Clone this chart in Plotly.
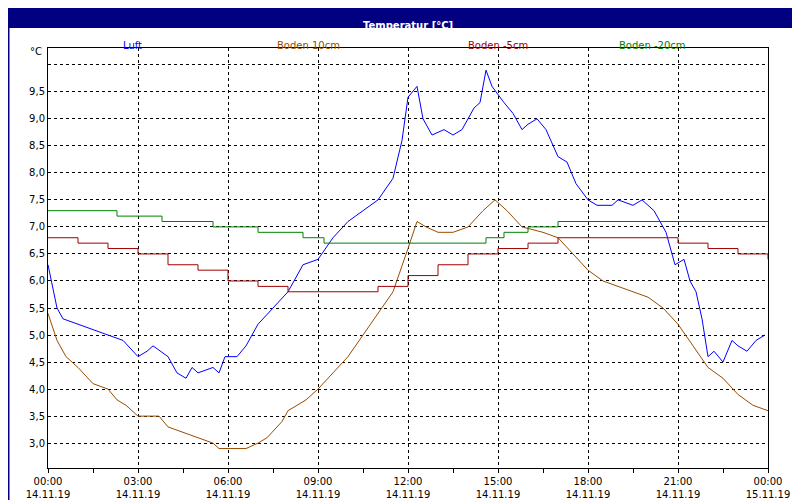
import plotly.graph_objects as go

luft_t = [0,0.3,0.5,1,1.5,2,2.5,3,3.3,3.5,4,4.3,4.6,4.8,5,5.5,5.7,5.9,6.3,6.6,7,7.5,8,8.5,9,9.5,10,10.5,11,11.5,11.8,12,12.3,12.5,12.8,13.2,13.5,13.8,14.2,14.4,14.6,14.8,15.2,15.5,15.8,16,16.3,16.6,17,17.3,17.6,18,18.3,18.8,19,19.5,19.8,20.2,20.6,20.9,21.2,21.4,21.6,21.8,22,22.2,22.5,22.8,23,23.3,23.6,23.9]
luft_v = [6.3,5.5,5.3,5.2,5.1,5.0,4.9,4.6,4.7,4.8,4.6,4.3,4.2,4.4,4.3,4.4,4.3,4.6,4.6,4.8,5.2,5.5,5.8,6.3,6.4,6.8,7.1,7.3,7.5,7.9,8.6,9.4,9.6,9.0,8.7,8.8,8.7,8.8,9.2,9.3,9.9,9.6,9.3,9.1,8.8,8.9,9.0,8.8,8.3,8.2,7.8,7.5,7.4,7.4,7.5,7.4,7.5,7.3,6.9,6.3,6.4,6.0,5.8,5.3,4.6,4.7,4.5,4.9,4.8,4.7,4.9,5.0]

b10_t = [0,0.3,0.6,1,1.5,2,2.3,2.6,3,3.7,4,4.5,5,5.5,5.7,6.6,7,7.3,7.8,8,8.6,9,9.5,10,10.5,11,11.5,12,12.3,12.6,13,13.5,14,14.5,14.9,15.3,15.8,16.5,17,17.5,18,18.5,19,19.5,20,20.5,21,21.5,22,22.5,23,23.5,24]
b10_v = [5.4,4.9,4.6,4.4,4.1,4.0,3.8,3.7,3.5,3.5,3.3,3.2,3.1,3.0,2.9,2.9,3.0,3.1,3.4,3.6,3.8,4.0,4.3,4.6,5.0,5.4,5.8,6.6,7.1,7.0,6.9,6.9,7.0,7.3,7.5,7.3,7.0,6.9,6.8,6.5,6.2,6.0,5.9,5.8,5.7,5.5,5.2,4.8,4.4,4.2,3.9,3.7,3.6]

b5_t = [0,1,2,3,4,5,6,7,8,10,11,12,13,14,15,16,17,20,21,22,23,24]
b5_v = [6.8,6.7,6.6,6.5,6.3,6.2,6.0,5.9,5.8,5.8,5.9,6.1,6.3,6.5,6.6,6.7,6.8,6.8,6.7,6.6,6.5,6.4]

b20_t = [0,2.3,3.8,5.5,7,8.5,9.2,14.6,15.2,16,17,24]
b20_v = [7.3,7.2,7.1,7.0,6.9,6.8,6.7,6.8,6.9,7.0,7.1,7.1]

x_ticks = [0,3,6,9,12,15,18,21,24]
x_labels = ["00:00<br>14.11.19","03:00<br>14.11.19","06:00<br>14.11.19","09:00<br>14.11.19",
            "12:00<br>14.11.19","15:00<br>14.11.19","18:00<br>14.11.19","21:00<br>14.11.19","00:00<br>15.11.19"]
y_ticks = [3.0,3.5,4.0,4.5,5.0,5.5,6.0,6.5,7.0,7.5,8.0,8.5,9.0,9.5,10.0]
y_labels = ["3,0","3,5","4,0","4,5","5,0","5,5","6,0","6,5","7,0","7,5","8,0","8,5","9,0","9,5",""]

names = ["Luft","Boden 10cm","Boden -5cm","Boden -20cm"]
colors = ["#0000ff","#994c00","#a00000","#008000"]

fig = go.Figure()
fig.add_trace(go.Scatter(x=luft_t, y=luft_v, mode="lines", line=dict(color=colors[0], width=1)))
fig.add_trace(go.Scatter(x=b10_t, y=b10_v, mode="lines", line=dict(color=colors[1], width=1)))
fig.add_trace(go.Scatter(x=b5_t, y=b5_v, mode="lines", line=dict(color=colors[2], width=1, shape="hv")))
fig.add_trace(go.Scatter(x=b20_t, y=b20_v, mode="lines", line=dict(color=colors[3], width=1, shape="hv")))

H = 420.0; W = 720.0
fnt = dict(family="DejaVu Sans", size=10, color="black")
fig.update_layout(
    width=800, height=500, showlegend=False,
    margin=dict(l=40, r=40, t=40, b=40, pad=0, autoexpand=False),
    paper_bgcolor="white", plot_bgcolor="white", font=fnt,
    xaxis=dict(range=[0,24], tickvals=x_ticks, ticktext=x_labels, showgrid=True,
               gridcolor="black", griddash="3px,3px", gridwidth=1, showline=True, linecolor="black",
               mirror=True, ticks="outside", ticklen=4, tickcolor="black", zeroline=False,
               minor=dict(tickvals=[1.5,4.5,7.5,10.5,13.5,16.5,19.5,22.5], ticks="outside", ticklen=4, tickcolor="black", showgrid=False)),
    yaxis=dict(range=[2.54,10.31], tickvals=y_ticks, ticktext=y_labels, showgrid=True,
               gridcolor="black", griddash="3px,3px", gridwidth=1, showline=True, linecolor="black",
               mirror=True, ticks="", zeroline=False),
)
fig.add_shape(type="rect", xref="paper", yref="paper", x0=-40/W, x1=1+40/W, y0=-40/H, y1=1+40/H,
              line=dict(color="#000080", width=3), fillcolor="rgba(0,0,0,0)", layer="above")
fig.add_shape(type="rect", xref="paper", yref="paper", x0=-40/W, x1=1+40/W, y0=1+20/H, y1=1+40/H,
              line=dict(width=0), fillcolor="#000080")
fig.add_annotation(xref="paper", yref="paper", x=0.5, y=1+30/H, text="<b>Temperatur [°C]</b>",
                   showarrow=False, font=dict(family="DejaVu Sans", size=10, color="white"))
for nm, c, px in zip(names, colors, [113,300,490,680]):
    fig.add_annotation(xref="paper", yref="paper", x=(px-40)/W, y=1+10/H, text=nm, showarrow=False,
                       font=dict(family="DejaVu Sans", size=10, color=c))
fig.add_annotation(xref="paper", yref="paper", x=-4/W, y=1+4/H, text="°C", showarrow=False,
                   xanchor="right", yanchor="top", font=fnt)
fig.write_html("out.html")
